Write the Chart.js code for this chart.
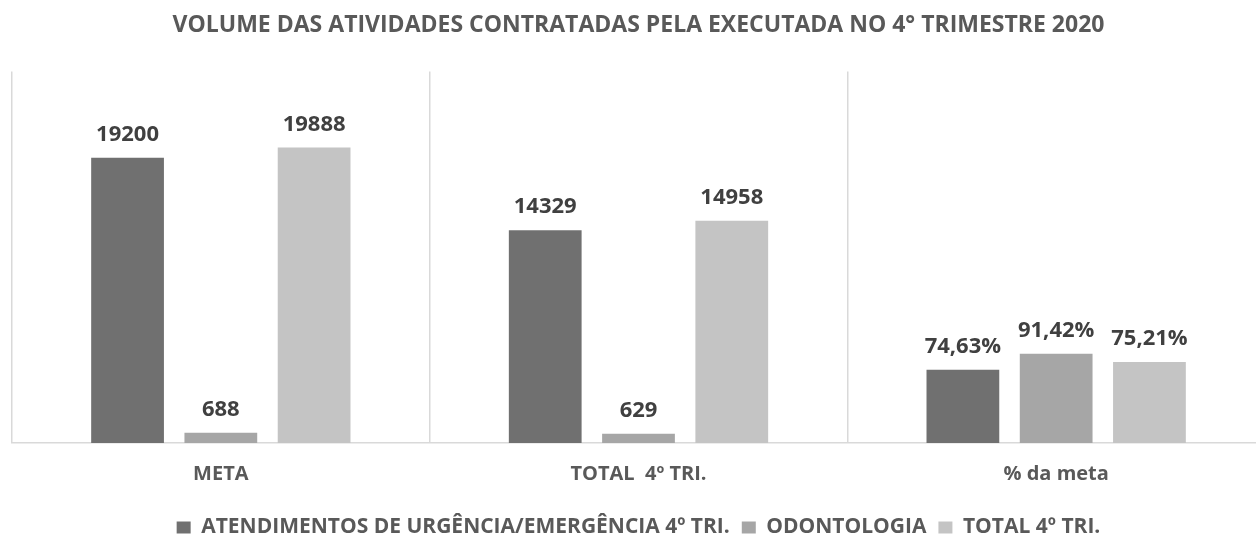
<!DOCTYPE html>
<html>
<head>
<meta charset="utf-8">
<script src="https://cdn.jsdelivr.net/npm/chart.js@4"></script>
<style>
  html, body { margin: 0; padding: 0; background: #fff; overflow: hidden; }
  #wrap { width: 1256px; height: 536px; overflow: hidden; }
</style>
</head>
<body>
<div id="wrap"><canvas id="barChart" width="1286" height="548"></canvas></div>
<script>
const categorias = ["META", "TOTAL  4º TRI.", "% da meta"];
const urgencia = [19200, 14329, 4935];
const odontologia = [688, 629, 6006];
const total = [19888, 14958, 5460];
// rótulos do grupo "% da meta"
const pctUrgencia = "74,63%";
const pctOdonto = "91,42%";
const pctTotal = "75,21%";

const fonte = "'Open Sans', sans-serif";

const rotulos = {
    id: 'rotulos',
    afterDatasetsDraw(chart) {
        const { ctx } = chart;
        const pcts = [pctUrgencia, pctOdonto, pctTotal];
        ctx.save();
        ctx.font = "bold 22px " + fonte;
        ctx.fillStyle = '#404040';
        ctx.textAlign = 'center';
        ctx.textBaseline = 'alphabetic';
        chart.data.datasets.forEach((ds, d) => {
            chart.getDatasetMeta(d).data.forEach((bar, i) => {
                let txt = i === 2 ? pcts[d] : String(ds.data[i]);
                ctx.fillText(txt, bar.x, bar.y - 17);
            });
        });
        ctx.restore();
    }
};

new Chart(document.getElementById("barChart").getContext('2d'), {
    type: 'bar',
    data: {
        labels: categorias,
        datasets: [{
            label: "ATENDIMENTOS DE URGÊNCIA/EMERGÊNCIA 4º TRI.",
            data: urgencia,
            backgroundColor: '#707070'
        }, {
            label: "ODONTOLOGIA",
            data: odontologia,
            backgroundColor: '#a6a6a6'
        }, {
            label: "TOTAL 4º TRI.",
            data: total,
            backgroundColor: '#c4c4c4'
        }]
    },
    options: {
        responsive: false,
        animation: false,
        categoryPercentage: 0.67,
        barPercentage: 0.78,
        layout: { padding: { left: 12, right: 21, top: 0, bottom: 0 } },
        scales: {
            x: {
                grid: { display: true, color: '#d9d9d9', lineWidth: 1.5, offset: true, drawTicks: false },
                border: { display: true, color: '#d9d9d9', width: 1.5 },
                ticks: { color: '#595959', font: { family: fonte, size: 20, weight: 'bold' }, padding: 19 }
            },
            y: {
                display: false,
                min: 0,
                max: 25000
            }
        },
        plugins: {
            title: {
                display: true,
                text: 'VOLUME DAS ATIVIDADES CONTRATADAS PELA EXECUTADA NO 4° TRIMESTRE 2020',
                color: '#595959',
                font: { family: fonte, size: 23, weight: 'bold' },
                padding: { top: 12, bottom: 32 }
            },
            legend: {
                position: 'bottom',
                labels: {
                    color: '#595959',
                    font: { family: fonte, size: 21, weight: 'bold' },
                    boxWidth: 14,
                    boxHeight: 12,
                    padding: 12
                }
            },
            tooltip: { enabled: false }
        }
    },
    plugins: [rotulos]
});
</script>
</body>
</html>
